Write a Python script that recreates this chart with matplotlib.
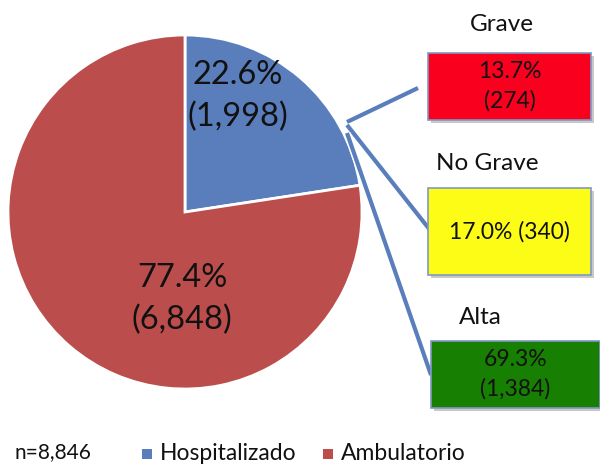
import matplotlib.pyplot as plt
import matplotlib.patheffects as pe
from matplotlib.patches import Rectangle

plt.rcParams['font.family'] = ['Lato', 'DejaVu Sans']

# data
main_labels = ['Hospitalizado', 'Ambulatorio']
main_counts = [1998, 6848]
main_pcts = [22.6, 77.4]
main_colors = ['#5A7EBC', '#BB4E4C']

sub_labels = ['Grave', 'No Grave', 'Alta']
sub_pcts = [13.7, 17.0, 69.3]
sub_counts = [274, 340, 1384]
sub_colors = ['#F8001E', '#FCFC17', '#177F02']
n_total = 8846

H = 465
fig = plt.figure(figsize=(6, 4.65), dpi=100)
ax = fig.add_axes([0, 0, 1, 1])

# main pie (pixel coordinates, y flipped)
cx, cy, r = 185, H - 212, 177
ax.pie(main_counts, colors=main_colors, startangle=90, counterclock=False,
       center=(cx, cy), radius=r, frame=True,
       wedgeprops=dict(edgecolor='white', linewidth=2))
ax.set_xlim(0, 600)
ax.set_ylim(0, H)
ax.set_aspect('equal')
ax.axis('off')

label_pos = [(238, 96), (182, 299)]
for (x, y), p, c in zip(label_pos, main_pcts, main_counts):
    ax.text(x, H - y, f'{p:.1f}%\n({c:,})', ha='center', va='center',
            fontsize=23.5, linespacing=1.45, color='#111111')

# connector lines to breakdown boxes
line_start = [(347, 122), (347, 125), (347, 133)]
line_end = [(418, 88), (430, 230), (431, 375)]
for (x0, y0), (x1, y1) in zip(line_start, line_end):
    ax.plot([x0, x1], [H - y0, H - y1], color='#5A7EBC', lw=3,
            solid_capstyle='butt',
            path_effects=[pe.Stroke(linewidth=5, foreground='white'), pe.Normal()])

# breakdown boxes
boxes = [(428, 53, 163, 67), (428, 188, 163, 87), (431, 341, 169, 67)]
titles_pos = [(502, 25), (487, 163), (480, 317)]
texts = [f'{sub_pcts[0]:.1f}%\n({sub_counts[0]:,})',
         f'{sub_pcts[1]:.1f}% ({sub_counts[1]:,})',
         f'{sub_pcts[2]:.1f}%\n({sub_counts[2]:,})']
for (x, y, w, h), (tx, ty), lab, txt, col in zip(boxes, titles_pos, sub_labels, texts, sub_colors):
    ax.add_patch(Rectangle((x + 3, H - y - h - 3), w, h, facecolor='#C8C8C8',
                           edgecolor='none', zorder=2))
    ax.add_patch(Rectangle((x, H - y - h), w, h, facecolor=col,
                           edgecolor='#7F98C6', lw=1.2, zorder=3))
    ax.text(x + w / 2, H - y - h / 2, txt, ha='center', va='center',
            fontsize=16.5, linespacing=1.45, color='#111111', zorder=4)
    ax.text(tx, H - ty, lab, ha='center', va='center', fontsize=17.5,
            color='#111111')

# bottom legend
ax.text(15, H - 452, f'n={n_total:,}', ha='left', va='center', fontsize=15,
        color='#111111')
leg_x = [142, 323]
for x, lab, col in zip(leg_x, main_labels, main_colors):
    ax.add_patch(Rectangle((x, H - 459), 10, 10, facecolor=col, edgecolor='none'))
    ax.text(x + 18, H - 454, lab, ha='left', va='center', fontsize=16.5,
            color='#111111')

fig.savefig('out.png', dpi=100)
